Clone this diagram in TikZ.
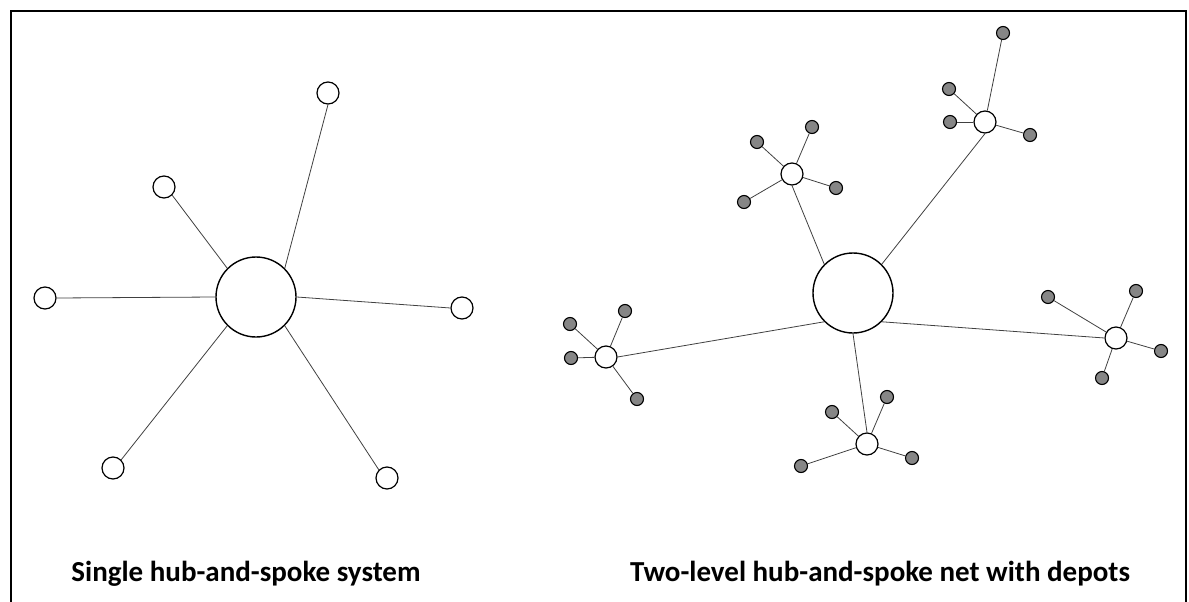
\documentclass[tikz,border=0pt]{standalone}
\usepackage{fontspec}
\setmainfont{Carlito}
\begin{document}
\begin{tikzpicture}[x=1pt,y=-1pt,
  bighub/.style={circle,draw=black,line width=1.4pt,fill=white,minimum size=80pt,inner sep=0pt},
  smallhub/.style={circle,draw=black,line width=1.2pt,fill=white,minimum size=22pt,inner sep=0pt},
  depot/.style={circle,draw=black,line width=1.1pt,fill=gray!95,minimum size=13pt,inner sep=0pt},
  spoke/.style={draw=black!75,line width=0.8pt},
  caption/.style={font=\bfseries\fontsize{29}{34}\selectfont,anchor=base}]
\useasboundingbox (0,0) rectangle (1189,602);
\draw[line width=1.6pt] (11,602) -- (11,11) -- (1186,11) -- (1186,602);

% single hub-and-spoke system
\node[bighub] (H) at (256,297) {};
\node[smallhub] (s1) at (328,93) {};
\node[smallhub] (s2) at (164,187) {};
\node[smallhub] (s3) at (45,298) {};
\node[smallhub] (s4) at (462,308) {};
\node[smallhub] (s5) at (113,468) {};
\node[smallhub] (s6) at (387,478) {};
\draw[spoke] (H.north east) -- (s1.south);
\draw[spoke] (H.north west) -- (s2.south east);
\draw[spoke] (H.west) -- (s3.east);
\draw[spoke] (H.east) -- (s4.west);
\draw[spoke] (H.south west) -- (s5.north east);
\draw[spoke] (H.south east) -- (s6.north west);

% two-level hub-and-spoke net with depots
\node[bighub] (C) at (853,293) {};
\node[smallhub] (a) at (792,174) {};
\node[smallhub] (b) at (985,122) {};
\node[smallhub] (c) at (606,357) {};
\node[smallhub] (d) at (1116,338) {};
\node[smallhub] (e) at (867,444) {};
\draw[spoke] (C.north west) -- (a.south);
\draw[spoke] (C.north east) -- (b.south);
\draw[spoke] (C.south west) -- (c.east);
\draw[spoke] (C.south east) -- (d.west);
\draw[spoke] (C.south) -- (e.north);

\node[depot] (a1) at (757,142) {};
\node[depot] (a2) at (812,127) {};
\node[depot] (a3) at (744,202) {};
\node[depot] (a4) at (836,188) {};

\node[depot] (b1) at (1003,33) {};
\node[depot] (b2) at (949,89) {};
\node[depot] (b3) at (950,122) {};
\node[depot] (b4) at (1030,135) {};

\node[depot] (c1) at (570,324) {};
\node[depot] (c2) at (625,311) {};
\node[depot] (c3) at (571,358) {};
\node[depot] (c4) at (637,399) {};

\node[depot] (d1) at (1048,297) {};
\node[depot] (d2) at (1136,291) {};
\node[depot] (d3) at (1161,351) {};
\node[depot] (d4) at (1102,378) {};

\node[depot] (e1) at (832,412) {};
\node[depot] (e2) at (887,397) {};
\node[depot] (e3) at (801,466) {};
\node[depot] (e4) at (912,458) {};

\foreach \h in {a,b,c,d,e}
  \foreach \k in {1,2,3,4}
    \draw[spoke] (\h) -- (\h\k);

% captions
\node[caption] (t1) at (246,581) {Single hub-and-spoke system};
\node[caption] (t2) at (880,581) {Two-level hub-and-spoke net with depots};
\end{tikzpicture}
\end{document}
